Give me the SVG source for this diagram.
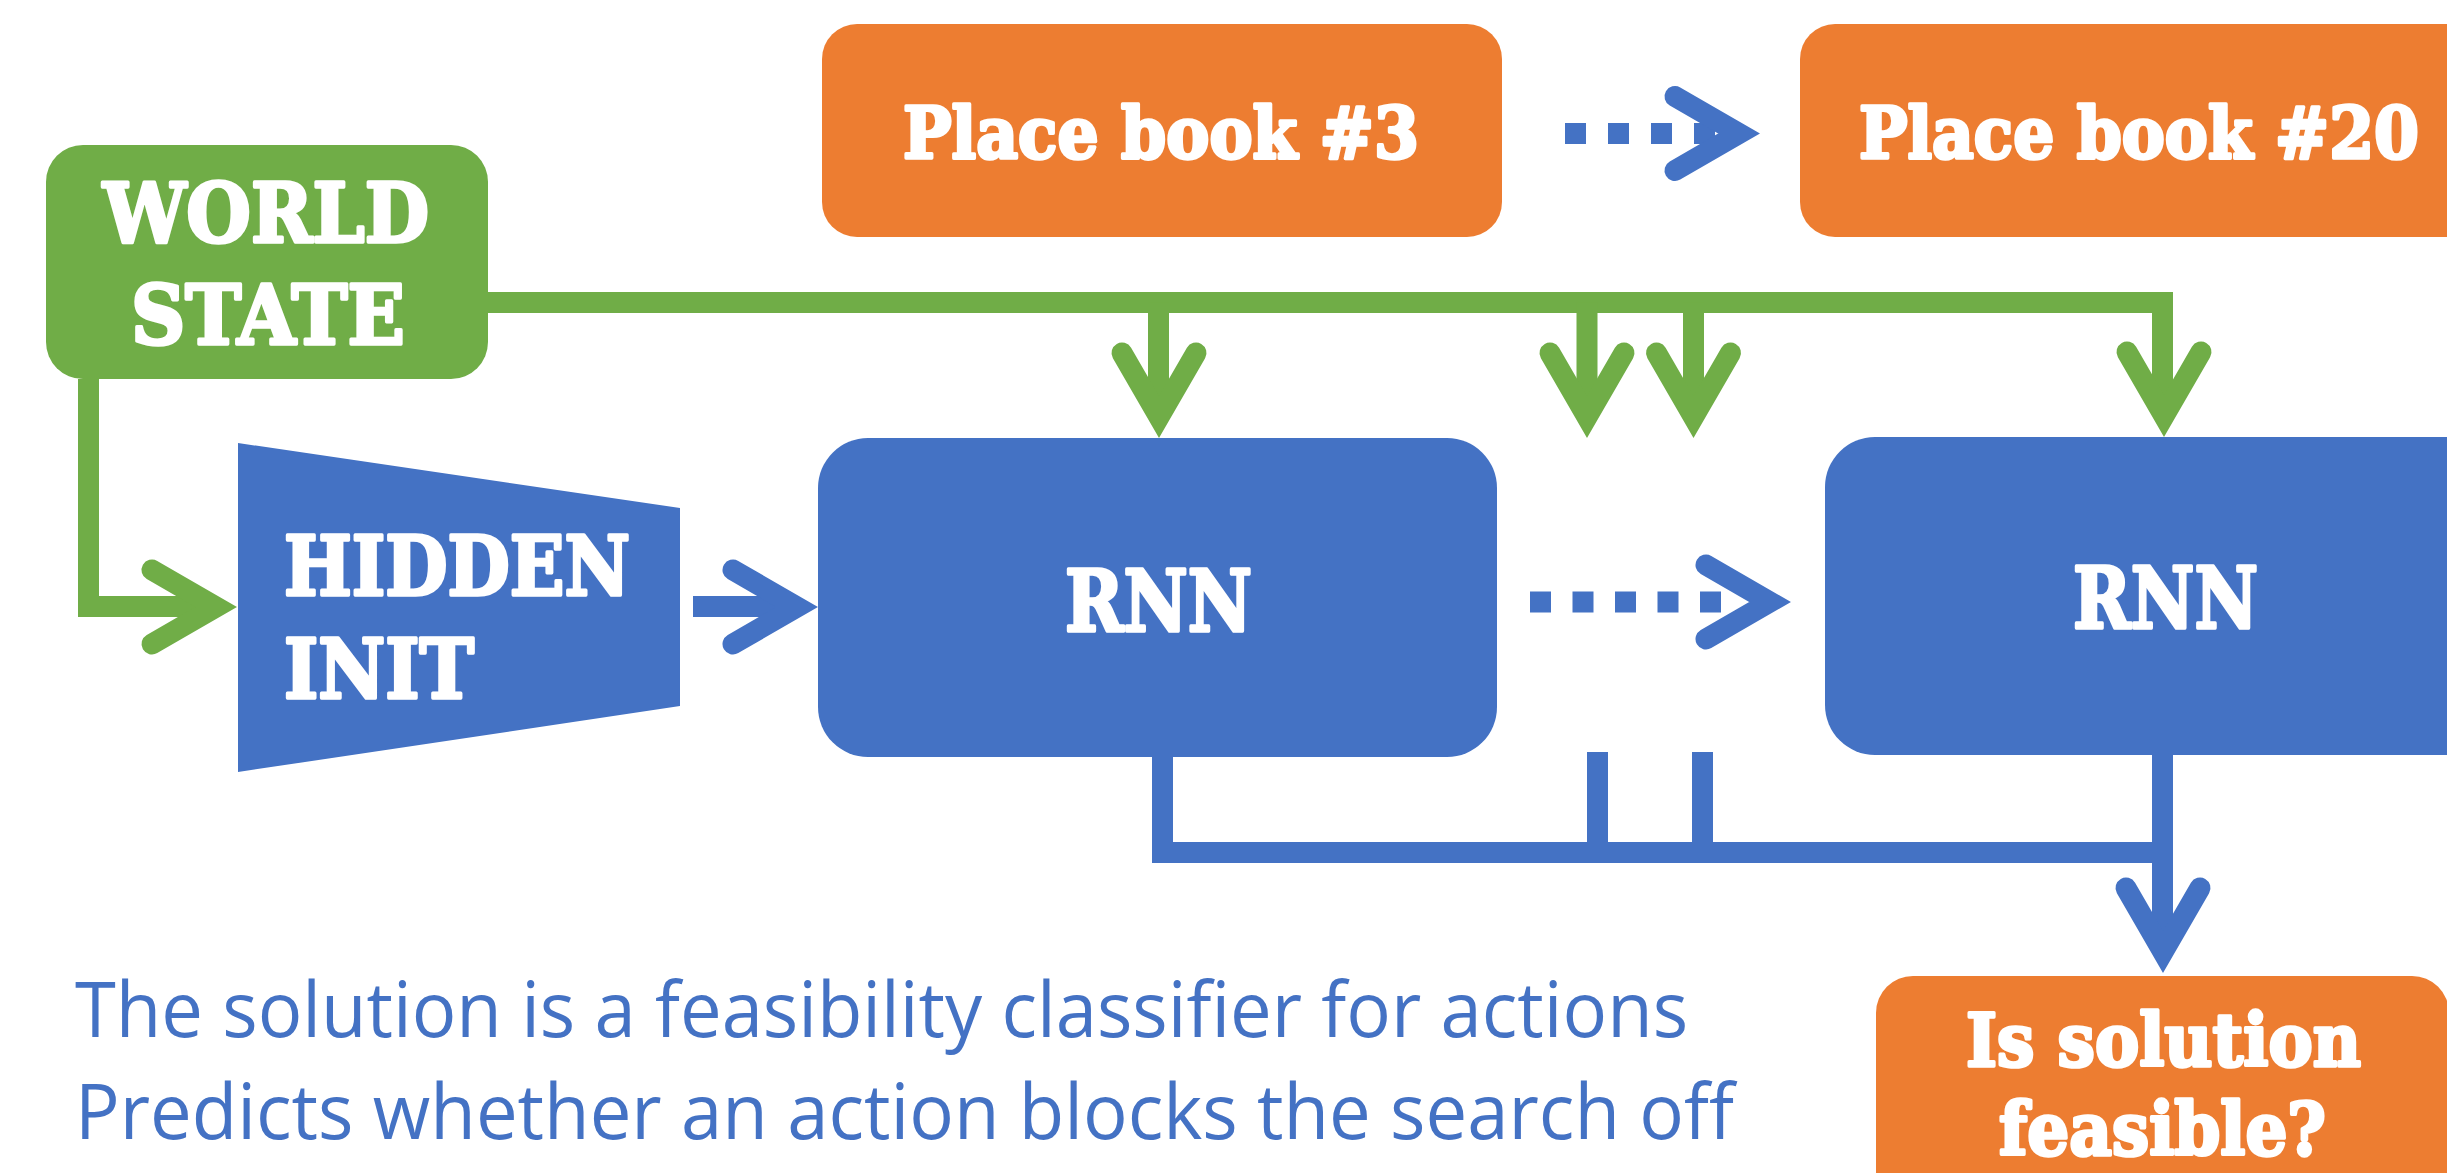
<svg xmlns="http://www.w3.org/2000/svg" xmlns:xlink="http://www.w3.org/1999/xlink" width="2447" height="1173" viewBox="0 0 2447 1173">
  <style>
    .green { fill: #70AD47; }
    .blue { fill: #4472C4; }
    .orange { fill: #ED7D31; }
    .lbl { font-family: "DejaVu Serif", "Liberation Serif", serif; font-weight: bold; fill: #FFFFFF; stroke: #FFFFFF; stroke-width: 3.5; stroke-linejoin: round; }
    .note { font-family: "Open Sans", "Noto Sans", sans-serif; fill: #4472C4; font-size: 76px; }
    .gline { fill: none; stroke: #70AD47; stroke-width: 21; stroke-linejoin: miter; stroke-miterlimit: 4; }
    .bline { fill: none; stroke: #4472C4; stroke-width: 21; stroke-linejoin: miter; stroke-miterlimit: 4; }
    .dots { fill: none; stroke: #4472C4; stroke-width: 21; }
  </style>
  <defs>
    <path id="ah" d="M -85,-37 L -21,0 L -85,37" fill="none" stroke-width="21" stroke-linejoin="miter" stroke-linecap="round" stroke-miterlimit="4"/>
  </defs>

  <g id="connectors">
    <path class="gline" d="M88.5,379 V606.5 H216"/>
    <use href="#ah" stroke="#70AD47" transform="translate(237,607)"/>
    <path class="gline" d="M488,302.5 H2162.5 V416"/>
    <use href="#ah" stroke="#70AD47" transform="translate(2164,437) rotate(90)"/>
    <path class="gline" d="M1158.5,302.5 V417"/>
    <use href="#ah" stroke="#70AD47" transform="translate(1159,438) rotate(90)"/>
    <path class="gline" d="M1587,302.5 V417"/>
    <use href="#ah" stroke="#70AD47" transform="translate(1587,438) rotate(90)"/>
    <path class="gline" d="M1693.5,302.5 V417"/>
    <use href="#ah" stroke="#70AD47" transform="translate(1693.5,438) rotate(90)"/>
    <path class="bline" d="M693,606.5 H797"/>
    <use href="#ah" stroke="#4472C4" transform="translate(818,607)"/>
    <path class="dots" d="M1565,133.5 H1720" stroke-dasharray="21 22"/>
    <use href="#ah" stroke="#4472C4" transform="translate(1760,133.5)"/>
    <path class="dots" d="M1530,602 H1721" stroke-dasharray="21 21.5"/>
    <use href="#ah" stroke="#4472C4" transform="translate(1791,602)"/>
    <path class="bline" d="M1162.5,757 V852.5 H2162.5"/>
    <path class="bline" d="M1597.5,752 V852"/>
    <path class="bline" d="M1702.5,752 V852"/>
    <path class="bline" d="M2162.5,755 V952"/>
    <use href="#ah" stroke="#4472C4" transform="translate(2163,973) rotate(90)"/>
  </g>

  <g id="world-state">
    <rect class="green" x="46" y="145" width="442" height="234" rx="37"/>
    <text class="lbl" x="103" y="242" font-size="82" textLength="326" lengthAdjust="spacingAndGlyphs">WORLD</text>
    <text class="lbl" x="131" y="344" font-size="82" textLength="274" lengthAdjust="spacingAndGlyphs">STATE</text>
  </g>

  <g id="place-book-3">
    <rect class="orange" x="822" y="24" width="680" height="213" rx="35"/>
    <text class="lbl" x="903" y="158" font-size="71" textLength="516" lengthAdjust="spacingAndGlyphs">Place book #3</text>
  </g>

  <g id="place-book-20">
    <rect class="orange" x="1800" y="24" width="720" height="213" rx="35"/>
    <text class="lbl" x="1859" y="158" font-size="71" textLength="560" lengthAdjust="spacingAndGlyphs">Place book #20</text>
  </g>

  <g id="hidden-init">
    <polygon class="blue" points="238,443 680,508 680,706 238,772"/>
    <text class="lbl" x="284" y="595" font-size="82" textLength="346" lengthAdjust="spacingAndGlyphs">HIDDEN</text>
    <text class="lbl" x="284" y="698" font-size="82" textLength="190" lengthAdjust="spacingAndGlyphs">INIT</text>
  </g>

  <g id="rnn-1">
    <rect class="blue" x="818" y="438" width="679" height="319" rx="50"/>
    <text class="lbl" x="1065" y="631" font-size="85" textLength="187" lengthAdjust="spacingAndGlyphs">RNN</text>
  </g>

  <g id="rnn-2">
    <rect class="blue" x="1825" y="437" width="720" height="318" rx="50"/>
    <text class="lbl" x="2073" y="628" font-size="85" textLength="185" lengthAdjust="spacingAndGlyphs">RNN</text>
  </g>

  <g id="is-feasible">
    <rect class="orange" x="1876" y="976" width="573" height="260" rx="37"/>
    <text class="lbl" x="1966" y="1066" font-size="73" textLength="395" lengthAdjust="spacingAndGlyphs">Is solution</text>
    <text class="lbl" x="1999" y="1155" font-size="73" textLength="327" lengthAdjust="spacingAndGlyphs">feasible?</text>
  </g>

  <g id="notes">
    <text class="note" x="75" y="1037" textLength="1613" lengthAdjust="spacingAndGlyphs">The solution is a feasibility classifier for actions</text>
    <text class="note" x="75" y="1139" textLength="1659" lengthAdjust="spacingAndGlyphs">Predicts whether an action blocks the search off</text>
  </g>
</svg>
